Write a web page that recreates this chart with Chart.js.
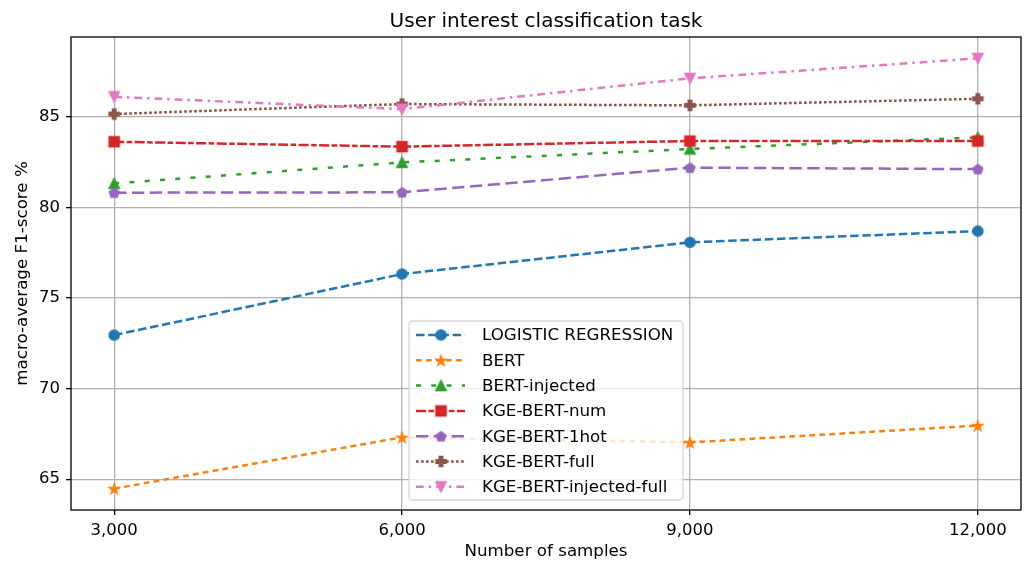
<!DOCTYPE html>
<html>
<head>
<meta charset="utf-8">
<script src="https://cdn.jsdelivr.net/npm/chart.js@4.4.0/dist/chart.umd.min.js"></script>
<style>
  html, body { margin: 0; padding: 0; background: #fff; overflow: hidden; }
  canvas { display: block; }
</style>
</head>
<body>
<canvas id="f1Chart" width="1026" height="565"></canvas>
<script>
// data
var samples = [3000, 6000, 9000, 12000];
var xTicks = [3000, 6000, 9000, 12000];
var yTicks = [65, 70, 75, 80, 85];

var seriesNames = ["LOGISTIC REGRESSION", "BERT", "BERT-injected", "KGE-BERT-num",
                   "KGE-BERT-1hot", "KGE-BERT-full", "KGE-BERT-injected-full"];

var logReg     = [72.95, 76.32, 78.07, 78.69];
var bert       = [64.48, 67.31, 67.03, 67.96];
var bertInj    = [81.32, 82.48, 83.22, 83.86];
var kgeNum     = [83.62, 83.35, 83.66, 83.66];
var kge1hot    = [80.81, 80.83, 82.19, 82.11];
var kgeFull    = [85.15, 85.70, 85.63, 85.99];
var kgeInjFull = [86.10, 85.42, 87.12, 88.22];

var allSeries = [logReg, bert, bertInj, kgeNum, kge1hot, kgeFull, kgeInjFull];

// looks
var colors = ["#1f77b4", "#ff7f0e", "#2ca02c", "#d62728", "#9467bd", "#8c564b", "#e377c2"];
var dashes = [[8.5, 3.7], [5.7, 4.3], [5, 10.3], [10, 2.5, 5.5, 2.5], [12.3, 5.5], [2.7, 2.3], [7.7, 5, 2.5, 5]];
var shapes = ["circle", "star", "triUp", "square", "pentagon", "plus", "triDown"];

var FONT = "'DejaVu Sans', sans-serif";
Chart.defaults.font.family = FONT;
Chart.defaults.color = "#000";

// matplotlib-like filled markers, drawn on small canvases
function makeMarker(shape, color) {
  var size = 15, m = size / 2, r = 5;
  var c = document.createElement("canvas");
  c.width = size; c.height = size;
  var g = c.getContext("2d");
  g.fillStyle = color;
  g.strokeStyle = color;
  g.lineWidth = 1.6;
  g.lineJoin = "miter";
  g.beginPath();
  if (shape == "circle") {
    g.arc(m, m, r, 0, Math.PI * 2);
  } else if (shape == "square") {
    g.rect(m - r, m - r, 2 * r, 2 * r);
  } else if (shape == "triUp") {
    g.moveTo(m, m - r); g.lineTo(m + r, m + r); g.lineTo(m - r, m + r);
  } else if (shape == "triDown") {
    g.moveTo(m, m + r); g.lineTo(m + r, m - r); g.lineTo(m - r, m - r);
  } else if (shape == "star" || shape == "pentagon") {
    var n = shape == "star" ? 10 : 5;
    for (var i = 0; i < n; i++) {
      var ang = -Math.PI / 2 + i * 2 * Math.PI / n;
      var rr = (shape == "star" && i % 2 == 1) ? r * 0.382 : r;
      var px = m + rr * Math.cos(ang), py = m + rr * Math.sin(ang) + (shape == "pentagon" ? 0.5 : 0.6);
      if (i == 0) g.moveTo(px, py); else g.lineTo(px, py);
    }
  } else if (shape == "plus") {
    var a = r / 3;
    var pts = [[-a, -r], [a, -r], [a, -a], [r, -a], [r, a], [a, a], [a, r], [-a, r], [-a, a], [-r, a], [-r, -a], [-a, -a]];
    pts.forEach(function (p, i) {
      if (i == 0) g.moveTo(m + p[0], m + p[1]); else g.lineTo(m + p[0], m + p[1]);
    });
  }
  g.closePath();
  g.fill();
  g.stroke();
  return c;
}

var markers = shapes.map(function (s, i) { return makeMarker(s, colors[i]); });

var datasets = allSeries.map(function (vals, i) {
  return {
    label: seriesNames[i],
    data: samples.map(function (x, j) { return { x: x, y: vals[j] }; }),
    borderColor: colors[i],
    backgroundColor: colors[i],
    borderWidth: 2.5,
    borderDash: dashes[i],
    pointStyle: markers[i],
    pointRadius: 6,
    tension: 0,
    fill: false,
    order: allSeries.length - i   // later series drawn on top, like matplotlib
  };
});

// frame, title and the legend box
var extras = {
  id: "extras",
  afterDatasetsDraw: function (chart) {
    var ctx = chart.ctx, a = chart.chartArea;
    ctx.save();
    ctx.strokeStyle = "#000";
    ctx.lineWidth = 1.3;
    ctx.strokeRect(a.left, a.top, a.right - a.left, a.bottom - a.top);

    ctx.fillStyle = "#000";
    ctx.font = "20px " + FONT;
    ctx.textAlign = "center";
    ctx.textBaseline = "alphabetic";
    ctx.fillText("User interest classification task", (a.left + a.right) / 2, a.top - 10);

    // legend
    var bx = 409, by = 321, bw = 274, bh = 179;
    ctx.beginPath();
    ctx.roundRect(bx, by, bw, bh, 4);
    ctx.fillStyle = "rgba(255,255,255,0.8)";
    ctx.fill();
    ctx.strokeStyle = "rgba(204,204,204,0.8)";
    ctx.lineWidth = 1.3;
    ctx.stroke();

    ctx.font = "16.7px " + FONT;
    ctx.textAlign = "left";
    ctx.textBaseline = "middle";
    seriesNames.forEach(function (name, i) {
      var y = 335 + i * 25.3;
      ctx.beginPath();
      ctx.setLineDash(dashes[i]);
      ctx.strokeStyle = colors[i];
      ctx.lineWidth = 2.5;
      ctx.moveTo(416, y);
      ctx.lineTo(465, y);
      ctx.stroke();
      ctx.setLineDash([]);
      ctx.drawImage(markers[i], 441 - markers[i].width / 2, y - markers[i].height / 2);
      ctx.fillStyle = "#000";
      ctx.fillText(name, 482, y + 1);
    });
    ctx.restore();
  }
};

var ctx = document.getElementById("f1Chart");

new Chart(ctx, {
  type: "line",
  data: { datasets: datasets },
  options: {
    responsive: false,
    devicePixelRatio: 1,
    animation: false,
    layout: { autoPadding: false, padding: { top: 37, right: 5, left: 0, bottom: 0 } },
    plugins: {
      legend: { display: false },
      tooltip: { enabled: false },
      title: { display: false }
    },
    scales: {
      x: {
        type: "linear",
        min: 2550,
        max: 12450,
        afterBuildTicks: function (s) { s.ticks = xTicks.map(function (v) { return { value: v }; }); },
        afterFit: function (s) { s.height = 55; },
        ticks: {
          callback: function (v) { return v.toLocaleString("en-US"); },
          font: { size: 16.5 },
          color: "#000",
          padding: 6,
          maxRotation: 0
        },
        grid: { color: "#b0b0b0", lineWidth: 1.3, tickColor: "#000", tickLength: 5, tickWidth: 1.3 },
        border: { display: false },
        title: { display: true, text: "Number of samples", font: { size: 16.7 }, color: "#000", padding: { top: 0, bottom: 3 } }
      },
      y: {
        min: 63.3,
        max: 89.4,
        afterBuildTicks: function (s) { s.ticks = yTicks.map(function (v) { return { value: v }; }); },
        afterFit: function (s) { s.width = 71; },
        ticks: { font: { size: 16.5 }, color: "#000", padding: 6 },
        grid: { color: "#b0b0b0", lineWidth: 1.3, tickColor: "#000", tickLength: 5, tickWidth: 1.3 },
        border: { display: false },
        title: { display: true, text: "macro-average F1-score %", font: { size: 16.7 }, color: "#000", padding: { top: 13, bottom: 0 } }
      }
    }
  },
  plugins: [extras]
});
</script>
</body>
</html>
